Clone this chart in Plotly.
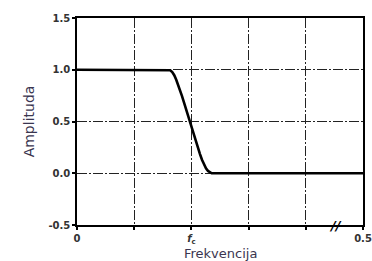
import plotly.graph_objects as go

freq = [0.0, 0.1597, 0.163, 0.1665, 0.170, 0.1735, 0.177, 0.1805, 0.1836, 0.187,
        0.1905, 0.194, 0.1976, 0.201, 0.2045, 0.208, 0.2115, 0.215, 0.2185,
        0.222, 0.2255, 0.229, 0.2325, 0.2355, 0.5]
amp = [1.0, 1.0, 0.995, 0.977, 0.947, 0.903, 0.853, 0.795, 0.745, 0.685,
       0.62, 0.56, 0.50, 0.44, 0.375, 0.31, 0.245, 0.185, 0.13,
       0.085, 0.048, 0.022, 0.006, 0.0, 0.0]

x_tickvals = [0.0, 0.2, 0.5]
x_ticktext = ["<b>0</b>", "<b><i>f</i><sub>c</sub></b>", "<b>0.5</b>"]
y_tickvals = [-0.5, 0.0, 0.5, 1.0, 1.5]
y_ticktext = ["<b>-0.5</b>", "<b>0.0</b>", "<b>0.5</b>", "<b>1.0</b>", "<b>1.5</b>"]

GRID = "#222222"
DASH = "10px,2px,2px,2px"
TICKFONT = dict(family="DejaVu Sans", size=10, color="#333333")
TITLEFONT = dict(family="DejaVu Sans", size=14, color="#3a3550")

fig = go.Figure()
fig.add_trace(go.Scatter(x=freq, y=amp, mode="lines",
                         line=dict(color="black", width=2.6),
                         showlegend=False, hoverinfo="skip"))

fig.add_annotation(x=0.452, y=-0.5, text="<b><i>//</i></b>", showarrow=False,
                   font=dict(size=13, color="black", family="DejaVu Sans"),
                   xanchor="center", yanchor="middle")
fig.add_annotation(x=0.5, y=0, xref="paper", yref="paper", text="Frekvencija",
                   showarrow=False, font=dict(family="DejaVu Sans", size=13, color="#3a3550"),
                   xanchor="center", yanchor="middle", yshift=-28)

axis_common = dict(showline=True, linecolor="black", linewidth=1.5, mirror=True,
                   ticks="outside", ticklen=3, tickcolor="black", tickwidth=1.5,
                   showgrid=True, gridcolor=GRID, gridwidth=1.3,
                   griddash=DASH, zeroline=False, tickfont=TICKFONT,
                   ticklabeloverflow="allow", automargin=False)

fig.update_xaxes(range=[0, 0.5], tickvals=x_tickvals, ticktext=x_ticktext,
                 minor=dict(dtick=0.1, ticks="outside", ticklen=3, tickcolor="black",
                            tickwidth=1.5, showgrid=True, gridcolor=GRID,
                            gridwidth=1.3, griddash=DASH),
                 **axis_common)
fig.update_yaxes(range=[-0.5, 1.5], tickvals=y_tickvals, ticktext=y_ticktext,
                 title=dict(text="Amplituda", standoff=10, font=TITLEFONT),
                 **axis_common)
fig.update_layout(width=372, height=261, margin=dict(l=77, r=9, t=18, b=36),
                  plot_bgcolor="white", paper_bgcolor="white")
fig.write_html("out.html", config={"displayModeBar": False},
               post_script="document.body.style.margin='0';document.body.style.overflow='hidden';")
